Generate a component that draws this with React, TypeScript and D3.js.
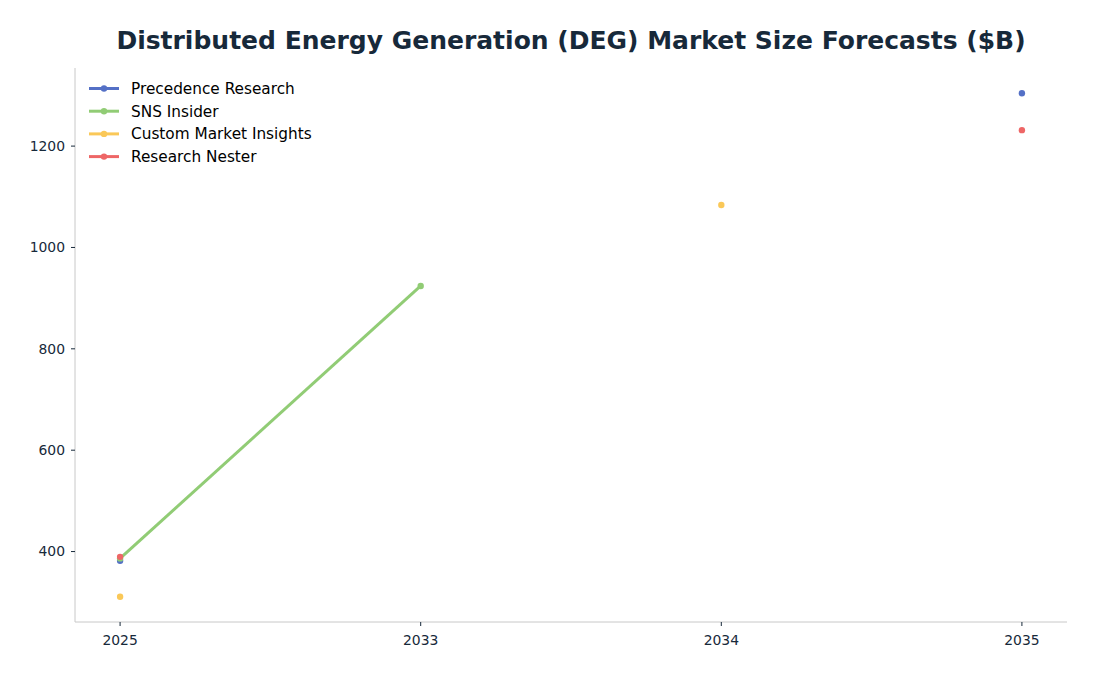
import React from "react";
import * as d3 from "d3";

const years = ["2025", "2033", "2034", "2035"];
const seriesNames = ["Precedence Research", "SNS Insider", "Custom Market Insights", "Research Nester"];
const seriesColors = ["#5470c6", "#91cc75", "#fac858", "#ee6666"];
const precedence: (number | null)[] = [381.7, null, null, 1304.4];
const snsInsider: (number | null)[] = [386.5, 924.0, null, null];
const customMarket: (number | null)[] = [310.7, null, 1083.7, null];
const researchNester: (number | null)[] = [389.6, null, null, 1231.5];
const yTicks = [400, 600, 800, 1000, 1200];

const W = 1096, H = 676;
const left = 75, right = 1067, top = 68, bottom = 622;
const FONT = "'DejaVu Sans', sans-serif";

export default function App() {
  const allSeries = [precedence, snsInsider, customMarket, researchNester];
  const vals = allSeries.flat().filter((v): v is number => v != null);
  const mn = d3.min(vals)!, mx = d3.max(vals)!;
  const pad = (mx - mn) * 0.05;
  const y = d3.scaleLinear().domain([mn - pad, mx + pad]).range([bottom, top]);
  const x = d3.scalePoint<string>().domain(years).range([left, right]).padding(0.15);
  const line = d3.line<[string, number | null]>()
    .defined((d) => d[1] != null)
    .x((d) => x(d[0])!)
    .y((d) => y(d[1] as number));

  return (
    <svg width={W} height={H} style={{ position: "absolute", left: 0, top: 0, fontFamily: FONT }}>
      <rect width={W} height={H} fill="#fff" />
      <text x={(left + right) / 2} y={49} textAnchor="middle" fontSize={25} fontWeight="bold" fill="#17293a">
        Distributed Energy Generation (DEG) Market Size Forecasts ($B)
      </text>
      <line x1={left} x2={left} y1={top} y2={bottom} stroke="#c8c8c8" strokeWidth={1} />
      <line x1={left} x2={right} y1={bottom} y2={bottom} stroke="#c8c8c8" strokeWidth={1} />
      {yTicks.map((t) => (
        <g key={t} transform={`translate(0,${y(t)})`}>
          <line x1={left - 4} x2={left} stroke="#17293a" strokeWidth={1} />
          <text x={left - 10} dy="0.35em" textAnchor="end" fontSize={13.9} fill="#17293a">{t}</text>
        </g>
      ))}
      {years.map((yr) => (
        <g key={yr} transform={`translate(${x(yr)},${bottom})`}>
          <line y1={0} y2={4} stroke="#17293a" strokeWidth={1} />
          <text y={23} textAnchor="middle" fontSize={13.9} fill="#17293a">{yr}</text>
        </g>
      ))}
      {allSeries.map((s, i) => {
        const pts = years.map((yr, j) => [yr, s[j]] as [string, number | null]);
        return (
          <g key={i}>
            <path d={line(pts) ?? ""} fill="none" stroke={seriesColors[i]} strokeWidth={3} />
            {pts.filter((p) => p[1] != null).map((p) => (
              <circle key={p[0]} cx={x(p[0])} cy={y(p[1] as number)} r={3.2} fill={seriesColors[i]} />
            ))}
          </g>
        );
      })}
      {seriesNames.map((n, i) => (
        <g key={n} transform={`translate(89,${88.5 + i * 22.7})`}>
          <line x1={0} x2={30} stroke={seriesColors[i]} strokeWidth={3} />
          <circle cx={15} cy={0} r={3.2} fill={seriesColors[i]} />
          <text x={42} dy="0.35em" fontSize={15.3} fill="#000">{n}</text>
        </g>
      ))}
    </svg>
  );
}
